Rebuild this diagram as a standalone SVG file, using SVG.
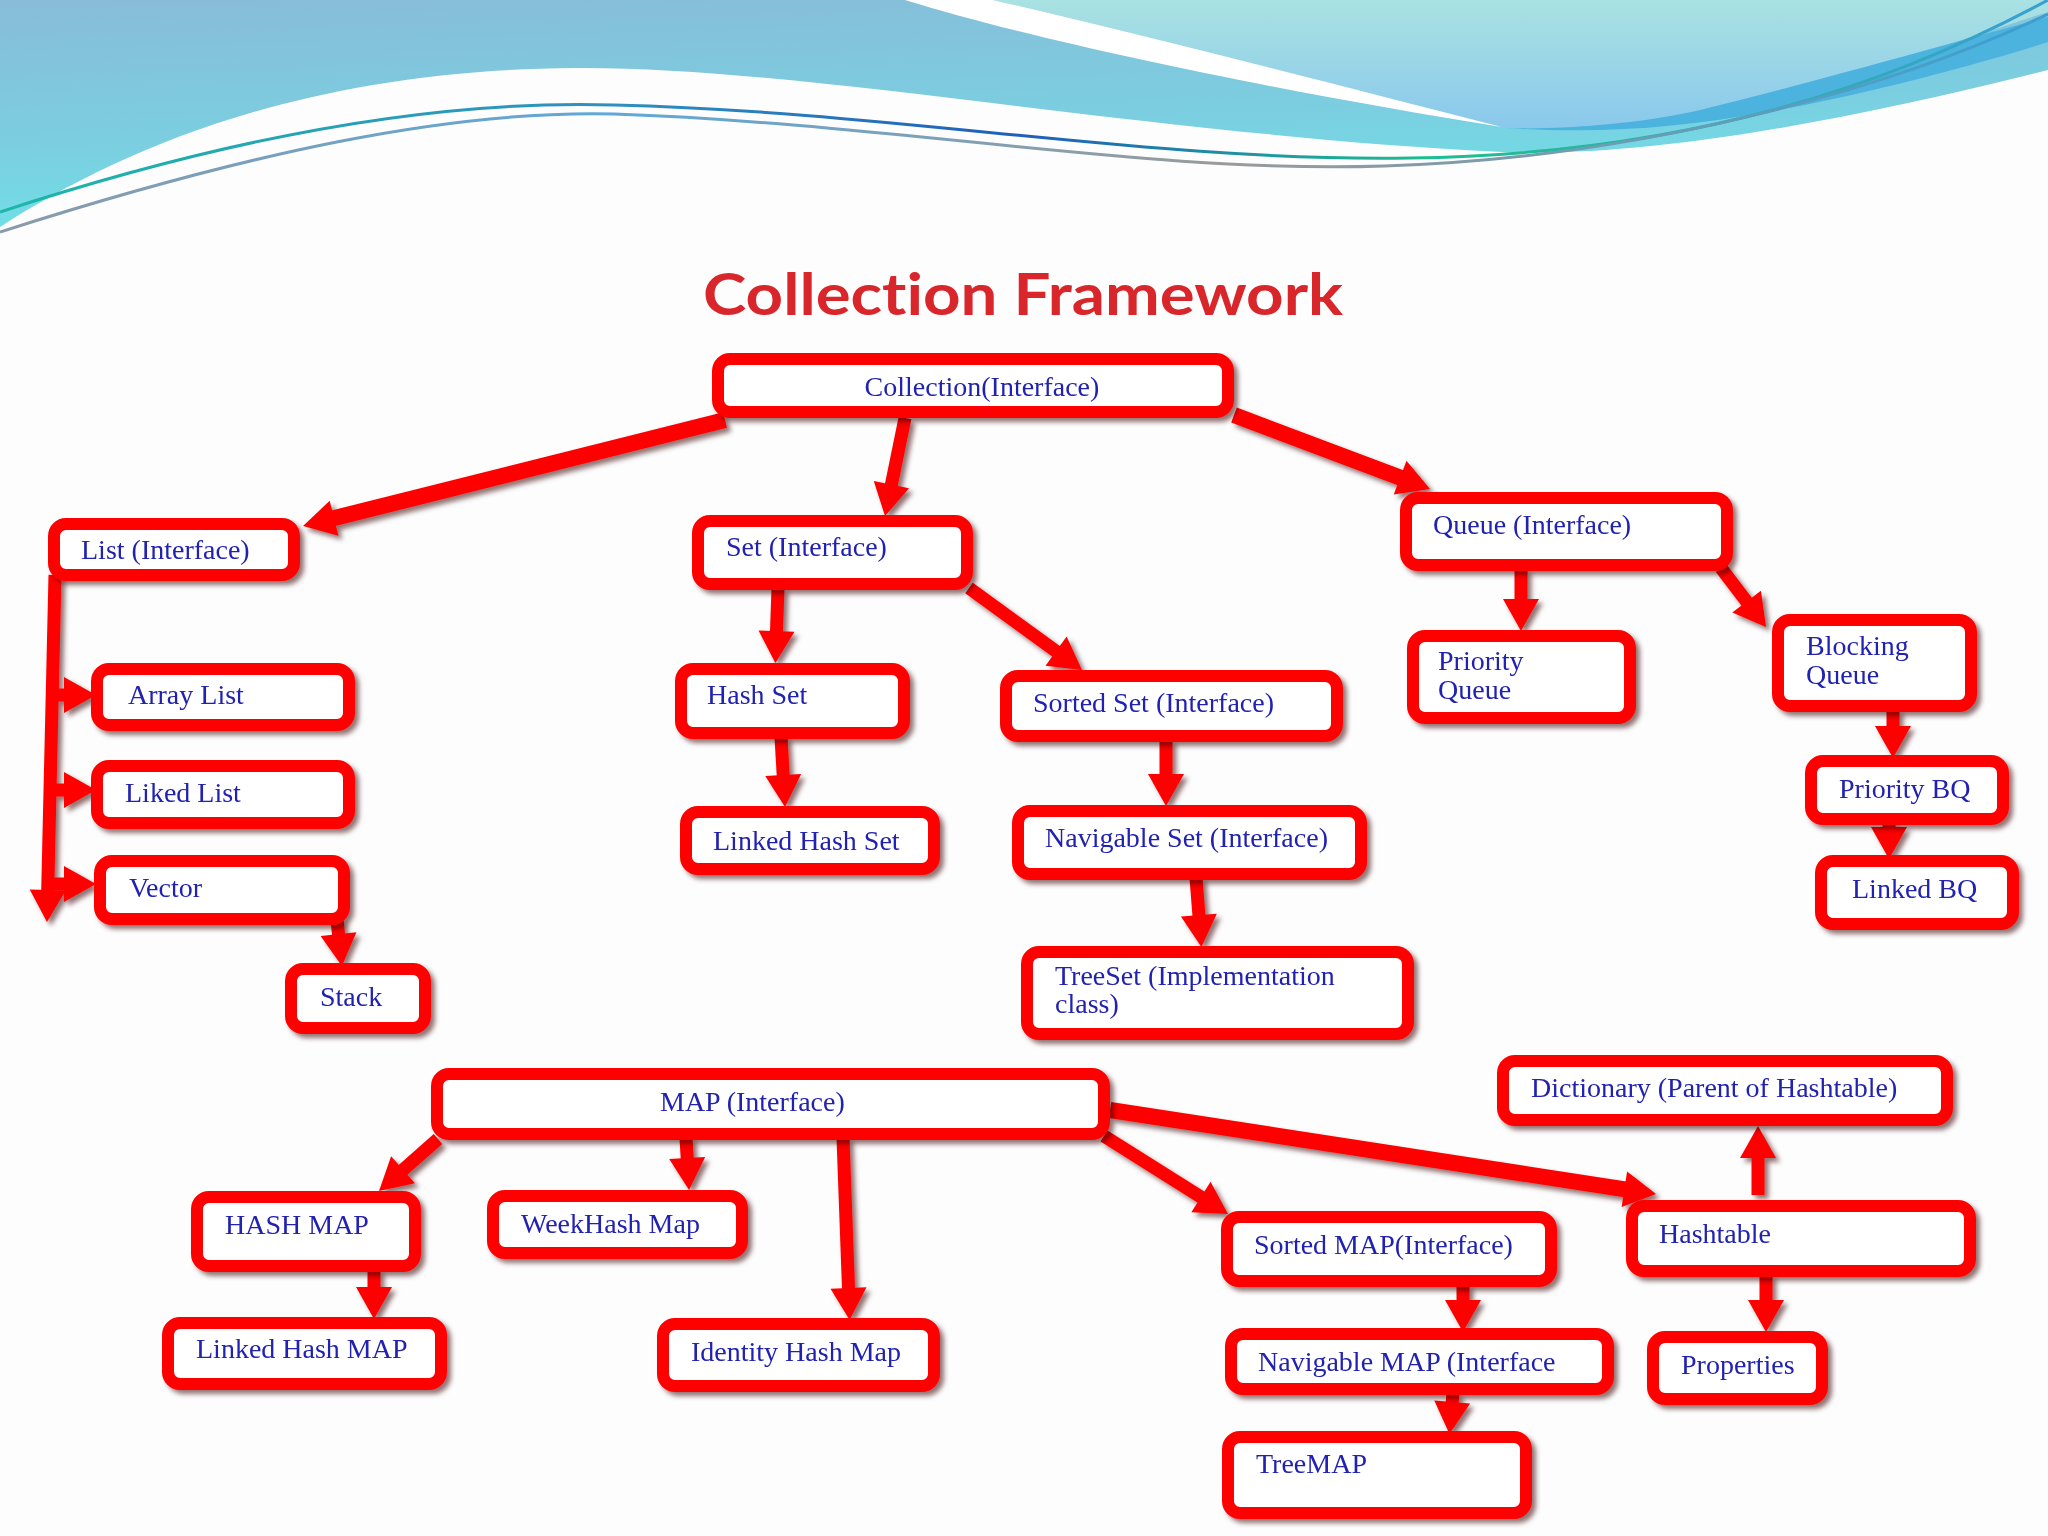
<svg xmlns="http://www.w3.org/2000/svg" width="2048" height="1536" viewBox="0 0 2048 1536">
<defs>
<linearGradient id="gTop" x1="0" y1="0" x2="0.25" y2="1">
<stop offset="0" stop-color="#88bcd9"/>
<stop offset="0.6" stop-color="#7acfe0"/>
<stop offset="1" stop-color="#6ee3ea"/>
</linearGradient>
<linearGradient id="gRight" x1="0" y1="0" x2="0" y2="1">
<stop offset="0" stop-color="#a9e2e2"/>
<stop offset="1" stop-color="#8ac8ec"/>
</linearGradient>
<linearGradient id="gLine1" x1="0" y1="0" x2="1" y2="0">
<stop offset="0" stop-color="#1cb7a8"/>
<stop offset="0.3" stop-color="#2f8fc0"/>
<stop offset="0.5" stop-color="#1f5fb8"/>
<stop offset="0.7" stop-color="#1dbf8f"/>
<stop offset="1" stop-color="#3aa0d0"/>
</linearGradient>
<linearGradient id="gLine2" x1="0" y1="0" x2="1" y2="0">
<stop offset="0" stop-color="#8a9aa8"/>
<stop offset="0.3" stop-color="#5fa8d8"/>
<stop offset="0.6" stop-color="#9a9a9a"/>
<stop offset="1" stop-color="#3a9fd0"/>
</linearGradient>
<filter id="sh" x="-10%" y="-10%" width="130%" height="140%">
<feDropShadow dx="4" dy="4" stdDeviation="2.5" flood-color="#3a0000" flood-opacity="0.55"/>
</filter>
<marker id="ah" markerUnits="userSpaceOnUse" markerWidth="40" markerHeight="40" refX="14" refY="18" orient="auto" overflow="visible">
<path d="M0,0 L32,18 L0,36 Z" fill="#ff0000"/>
</marker>
<style>
.box{fill:#ffffff;stroke:#ff0000;stroke-width:12;}
.t{font-family:"Liberation Serif","Times New Roman",serif;font-size:28px;fill:#2020b2;}
.c{fill:none;stroke:#ff0000;stroke-width:13;marker-end:url(#ah);}
.thick{stroke-width:16;}
</style>
</defs>

<rect x="0" y="0" width="2048" height="1536" fill="#fdfdfe"/>

<g id="banner">
<rect x="0" y="0" width="2048" height="240" fill="url(#gTop)"/>
<path d="M993,0 C1136,33 1306,77 1502,127 C1560,131 1620,130 1680,118 C1830,85 1960,40 2048,12 V0 Z" fill="url(#gRight)"/>
<path d="M905,0 H993 C1136,33 1306,77 1502,127 C1300,95 1050,45 905,0 Z" fill="#ffffff"/>
<path d="M1505,128 C1560,130 1640,124 1700,110 C1830,78 1960,40 2048,17 V42 C1960,70 1840,100 1765,112 C1680,128 1600,134 1505,128 Z" fill="#4cb2de"/>
<path d="M0,227 C120,150 300,70 575,68 C800,66 1150,135 1502,152 C1650,158 1850,120 2048,70 V1536 H0 Z" fill="#fdfdfe"/>
<path d="M0,212 C250,130 450,100 614,105 C900,112 1150,162 1410,158 C1700,154 1900,80 2048,0" fill="none" stroke="url(#gLine1)" stroke-width="3"/>
<path d="M0,232 C250,152 450,110 614,114 C900,124 1150,174 1384,166 C1650,158 1900,85 2048,14" fill="none" stroke="url(#gLine2)" stroke-width="3"/>
</g>

<text x="1023" y="315" text-anchor="middle" font-family="Lato,'Open Sans','Liberation Sans',sans-serif" font-weight="bold" font-size="57" fill="#d9262b" textLength="640" lengthAdjust="spacingAndGlyphs" style="font-variant-ligatures:none;font-feature-settings:'liga' 0">Collection Framework</text>

<g id="connectors" filter="url(#sh)">
<path class="c thick" d="M725,420 L320.5,521.6"/>
<path class="c" d="M905,418 L888.6,498.4"/>
<path class="c thick" d="M1234,415 L1413.2,482.6"/>
<path class="c" d="M55,575 L47.4,904"/>
<path class="c" d="M50,695 L78,695"/>
<path class="c" d="M50,790 L78,790"/>
<path class="c" d="M48,884 L78,884"/>
<path class="c" d="M337,920 L340,948"/>
<path class="c" d="M778,588 L776,645"/>
<path class="c" d="M969,588 L1067.4,659.4"/>
<path class="c" d="M781,737 L784,789"/>
<path class="c" d="M1166,740 L1166,788"/>
<path class="c" d="M1196,878 L1200,929"/>
<path class="c" d="M1521,569 L1521,613"/>
<path class="c" d="M1721,568 L1755.1,612.7"/>
<path class="c" d="M1893,710 L1893,740"/>
<path class="c" d="M1889,823 L1889,841"/>
<path class="c" d="M438,1139 L392.5,1179.1"/>
<path class="c" d="M686,1138 L688,1172"/>
<path class="c" d="M843,1138 L849,1302"/>
<path class="c" d="M1104,1136 L1212.8,1204.4"/>
<path class="c thick" d="M1110,1110 L1638.2,1191.3"/>
<path class="c" d="M374,1270 L374,1301"/>
<path class="c" d="M1463,1285 L1463,1314"/>
<path class="c" d="M1453,1393 L1451,1416"/>
<path class="c" d="M1758,1195 L1758,1144"/>
<path class="c" d="M1766,1275 L1766,1314"/>
</g>

<g id="n-collection" filter="url(#sh)"><rect class="box" x="718" y="359" width="510" height="53" rx="12"/><text class="t" x="982" y="396" text-anchor="middle">Collection(Interface)</text></g>
<g id="n-list" filter="url(#sh)"><rect class="box" x="54" y="524" width="240" height="51" rx="12"/><text class="t" x="81" y="559">List (Interface)</text></g>
<g id="n-set" filter="url(#sh)"><rect class="box" x="698" y="521" width="269" height="63" rx="12"/><text class="t" x="726" y="556">Set (Interface)</text></g>
<g id="n-queue" filter="url(#sh)"><rect class="box" x="1406" y="498" width="321" height="67" rx="12"/><text class="t" x="1433" y="534">Queue (Interface)</text></g>
<g id="n-arraylist" filter="url(#sh)"><rect class="box" x="97" y="669" width="252" height="56" rx="12"/><text class="t" x="128" y="704">Array List</text></g>
<g id="n-likedlist" filter="url(#sh)"><rect class="box" x="97" y="766" width="252" height="57" rx="12"/><text class="t" x="125" y="802">Liked List</text></g>
<g id="n-vector" filter="url(#sh)"><rect class="box" x="100" y="861" width="244" height="58" rx="12"/><text class="t" x="129" y="897">Vector</text></g>
<g id="n-stack" filter="url(#sh)"><rect class="box" x="291" y="969" width="134" height="59" rx="12"/><text class="t" x="320" y="1006">Stack</text></g>
<g id="n-hashset" filter="url(#sh)"><rect class="box" x="681" y="669" width="223" height="64" rx="12"/><text class="t" x="707" y="704">Hash Set</text></g>
<g id="n-linkedhashset" filter="url(#sh)"><rect class="box" x="686" y="812" width="248" height="57" rx="12"/><text class="t" x="713" y="850">Linked Hash Set</text></g>
<g id="n-sortedset" filter="url(#sh)"><rect class="box" x="1006" y="676" width="331" height="60" rx="12"/><text class="t" x="1033" y="712">Sorted Set (Interface)</text></g>
<g id="n-navigableset" filter="url(#sh)"><rect class="box" x="1018" y="811" width="343" height="63" rx="12"/><text class="t" x="1045" y="847">Navigable Set (Interface)</text></g>
<g id="n-treeset" filter="url(#sh)"><rect class="box" x="1027" y="952" width="381" height="82" rx="12"/><text class="t" x="1055" y="985">TreeSet (Implementation</text><text class="t" x="1055" y="1013">class)</text></g>
<g id="n-priorityqueue" filter="url(#sh)"><rect class="box" x="1413" y="636" width="217" height="82" rx="12"/><text class="t" x="1438" y="670">Priority</text><text class="t" x="1438" y="699">Queue</text></g>
<g id="n-blockingqueue" filter="url(#sh)"><rect class="box" x="1778" y="620" width="193" height="86" rx="12"/><text class="t" x="1806" y="655">Blocking</text><text class="t" x="1806" y="684">Queue</text></g>
<g id="n-prioritybq" filter="url(#sh)"><rect class="box" x="1811" y="761" width="192" height="58" rx="12"/><text class="t" x="1839" y="798">Priority BQ</text></g>
<g id="n-linkedbq" filter="url(#sh)"><rect class="box" x="1821" y="861" width="192" height="63" rx="12"/><text class="t" x="1852" y="898">Linked BQ</text></g>
<g id="n-map" filter="url(#sh)"><rect class="box" x="437" y="1074" width="667" height="60" rx="12"/><text class="t" x="660" y="1111">MAP (Interface)</text></g>
<g id="n-hashmap" filter="url(#sh)"><rect class="box" x="197" y="1197" width="218" height="69" rx="12"/><text class="t" x="225" y="1234">HASH MAP</text></g>
<g id="n-weekhashmap" filter="url(#sh)"><rect class="box" x="493" y="1196" width="249" height="57" rx="12"/><text class="t" x="521" y="1233">WeekHash Map</text></g>
<g id="n-linkedhashmap" filter="url(#sh)"><rect class="box" x="168" y="1323" width="273" height="61" rx="12"/><text class="t" x="196" y="1358">Linked Hash MAP</text></g>
<g id="n-identityhashmap" filter="url(#sh)"><rect class="box" x="663" y="1324" width="271" height="62" rx="12"/><text class="t" x="691" y="1361">Identity Hash Map</text></g>
<g id="n-sortedmap" filter="url(#sh)"><rect class="box" x="1227" y="1217" width="324" height="64" rx="12"/><text class="t" x="1254" y="1254">Sorted MAP(Interface)</text></g>
<g id="n-navigablemap" filter="url(#sh)"><rect class="box" x="1231" y="1334" width="377" height="55" rx="12"/><text class="t" x="1258" y="1371">Navigable MAP (Interface</text></g>
<g id="n-treemap" filter="url(#sh)"><rect class="box" x="1228" y="1437" width="298" height="76" rx="12"/><text class="t" x="1256" y="1473">TreeMAP</text></g>
<g id="n-dictionary" filter="url(#sh)"><rect class="box" x="1503" y="1061" width="444" height="59" rx="12"/><text class="t" x="1531" y="1097">Dictionary (Parent of Hashtable)</text></g>
<g id="n-hashtable" filter="url(#sh)"><rect class="box" x="1632" y="1206" width="338" height="65" rx="12"/><text class="t" x="1659" y="1243">Hashtable</text></g>
<g id="n-properties" filter="url(#sh)"><rect class="box" x="1653" y="1337" width="169" height="62" rx="12"/><text class="t" x="1681" y="1374">Properties</text></g>
</svg>
